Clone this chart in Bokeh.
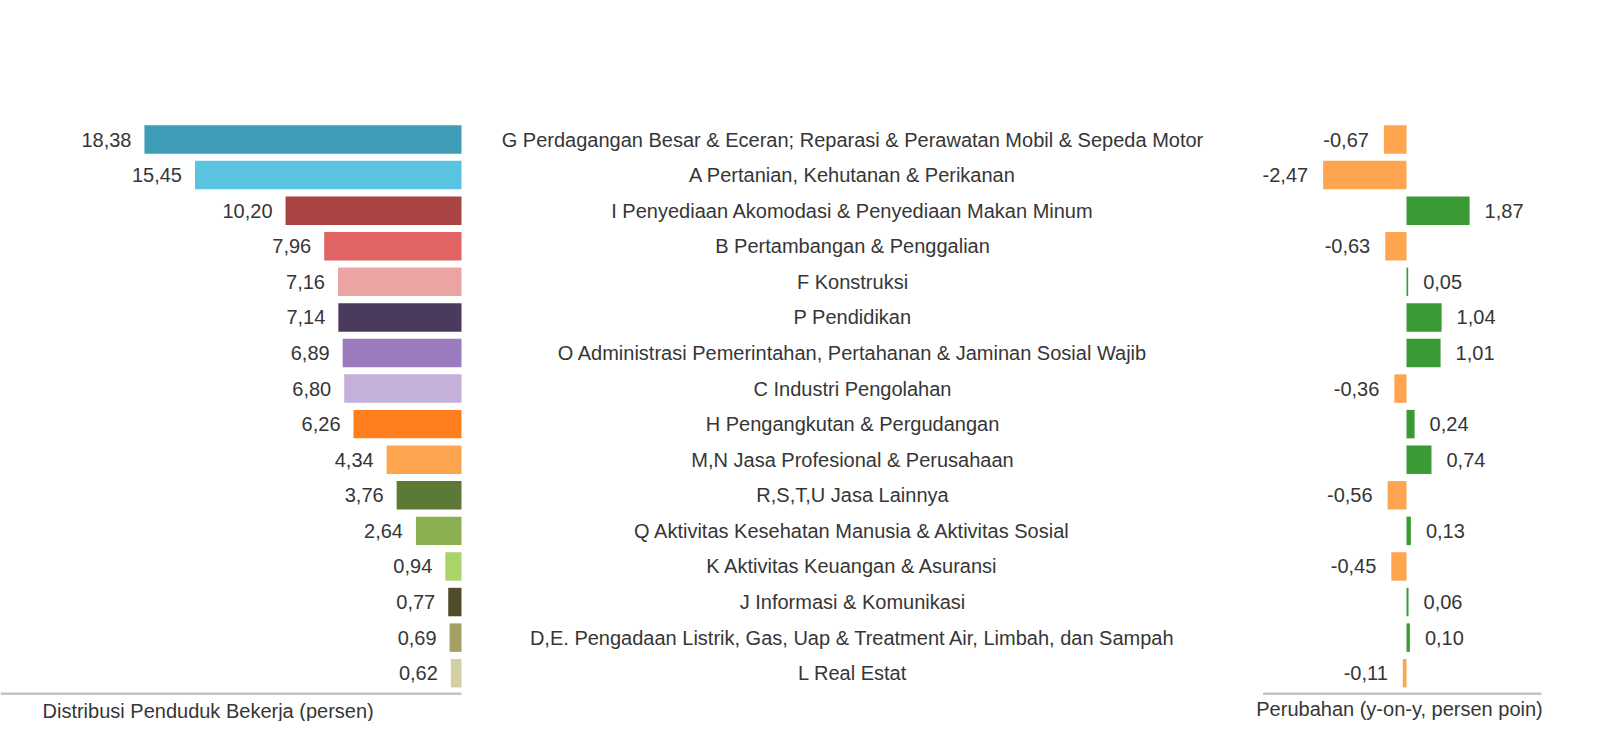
from bokeh.plotting import figure
from bokeh.models import Range1d, ColumnDataSource, Label
from bokeh.core.properties import value
from bokeh.embed import file_html
from bokeh.resources import INLINE

categories = [
    "G Perdagangan Besar & Eceran; Reparasi & Perawatan Mobil & Sepeda Motor",
    "A Pertanian, Kehutanan & Perikanan",
    "I Penyediaan Akomodasi & Penyediaan Makan Minum",
    "B Pertambangan & Penggalian",
    "F Konstruksi",
    "P Pendidikan",
    "O Administrasi Pemerintahan, Pertahanan & Jaminan Sosial Wajib",
    "C Industri Pengolahan",
    "H Pengangkutan & Pergudangan",
    "M,N Jasa Profesional & Perusahaan",
    "R,S,T,U Jasa Lainnya",
    "Q Aktivitas Kesehatan Manusia & Aktivitas Sosial",
    "K Aktivitas Keuangan & Asuransi",
    "J Informasi & Komunikasi",
    "D,E. Pengadaan Listrik, Gas, Uap & Treatment Air, Limbah, dan Sampah",
    "L Real Estat",
]
distribusi = [18.38, 15.45, 10.20, 7.96, 7.16, 7.14, 6.89, 6.80, 6.26, 4.34,
              3.76, 2.64, 0.94, 0.77, 0.69, 0.62]
perubahan = [-0.67, -2.47, 1.87, -0.63, 0.05, 1.04, 1.01, -0.36, 0.24, 0.74,
             -0.56, 0.13, -0.45, 0.06, 0.10, -0.11]
dist_colors = ["#3F9DB8", "#5AC4E0", "#A94442", "#E06464", "#EBA4A2", "#4A3A5E",
               "#9A7BBD", "#C4B0DA", "#FF7F1E", "#FFA54F", "#5C7A36", "#8CB04F",
               "#A8D46A", "#524B2C", "#A49F63", "#D2CFA2"]
neg_color = "#FFA54F"
pos_color = "#3A9B35"
dist_title = "Distribusi Penduduk Bekerja (persen)"
chg_title = "Perubahan (y-on-y, persen poin)"
chg_axis = (-4.25, 4.0)

FONT = "Liberation Sans"
FS = "20px"
TXT = "#363636"

W, H = 1584, 721
n = len(categories)
rows = list(range(n))

# pixel geometry (figure coordinates)
dist_zero_px = 461.0
dist_ppu = 17.25
chg_zero_px = 1406.0
chg_ppu = 33.75
row0_px = 139.0
row_step = 35.58

p = figure(width=W, height=H, output_backend="svg", toolbar_location=None,
           x_range=Range1d(0, W),
           y_range=Range1d((H - row0_px) / row_step, -row0_px / row_step),
           min_border=0, outline_line_color=None)
p.extra_x_ranges = {
    "dist": Range1d(dist_zero_px / dist_ppu, -(W - dist_zero_px) / dist_ppu),
    "chg": Range1d(-chg_zero_px / chg_ppu, (W - chg_zero_px) / chg_ppu),
}
p.axis.visible = False
p.grid.visible = False
p.background_fill_color = "white"
p.border_fill_color = "white"

bh = 0.8

# left: distribution
src_d = ColumnDataSource(dict(
    y=rows, v=distribusi, c=dist_colors,
    lab=[f"{v:.2f}".replace(".", ",") for v in distribusi]))
p.hbar(y="y", left=0, right="v", height=bh, fill_color="c", line_color=None,
       source=src_d, x_range_name="dist")
p.text(x="v", y="y", text="lab", source=src_d, x_range_name="dist",
       x_offset=-13, text_align="right", text_baseline="middle",
       text_font=value(FONT), text_font_size=FS, text_color=TXT)

# right: change
src_c = ColumnDataSource(dict(
    y=rows, v=perubahan,
    c=[pos_color if v >= 0 else neg_color for v in perubahan],
    lab=[f"{v:.2f}".replace(".", ",") for v in perubahan],
    al=["left" if v >= 0 else "right" for v in perubahan],
    xo=[15 if v >= 0 else -15 for v in perubahan]))
p.hbar(y="y", left=0, right="v", height=bh, fill_color="c", line_color=None,
       source=src_c, x_range_name="chg")
p.text(x="v", y="y", text="lab", source=src_c, x_range_name="chg",
       x_offset="xo", text_align="al", text_baseline="middle",
       text_font=value(FONT), text_font_size=FS, text_color=TXT)

# center category labels
src_l = ColumnDataSource(dict(y=rows, t=categories, x=[852] * n))
p.text(x="x", y="y", text="t", source=src_l, text_align="center",
       text_baseline="middle", text_font=value(FONT), text_font_size=FS,
       text_color=TXT)

# baselines
base_y = n - 1 + 0.58
p.segment(x0=[p.extra_x_ranges["dist"].start], x1=[0], y0=[base_y], y1=[base_y],
          x_range_name="dist", line_color="#c4c4c4", line_width=2.5)
p.segment(x0=[chg_axis[0]], x1=[chg_axis[1]], y0=[base_y], y1=[base_y],
          x_range_name="chg", line_color="#c4c4c4", line_width=2.5)

# axis titles
p.add_layout(Label(x=42, y=11, x_units="screen", y_units="screen",
                   text=dist_title, text_baseline="middle",
                   text_font=FONT, text_font_size=FS, text_color=TXT))
p.add_layout(Label(x=1399, y=13,
                   x_units="screen", y_units="screen", text=chg_title,
                   text_align="center", text_baseline="middle",
                   text_font=FONT, text_font_size=FS, text_color=TXT))

open("out.html", "w").write(file_html(p, INLINE))
